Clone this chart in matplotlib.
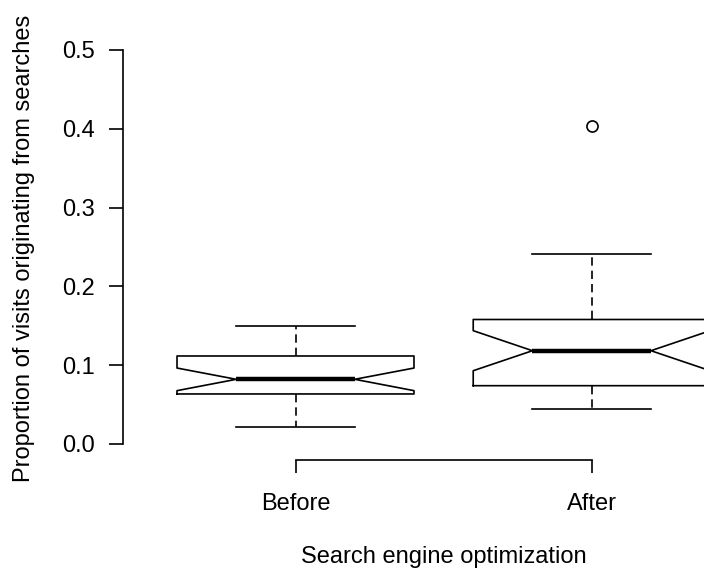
import matplotlib
matplotlib.use("Agg")
import matplotlib.pyplot as plt

plt.rcParams['font.family'] = ['Liberation Sans', 'DejaVu Sans']

categories = ["Before", "After"]
q1 = [0.0635, 0.074]
med = [0.0821, 0.1184]
q3 = [0.1117, 0.158]
whislo = [0.0216, 0.044]
whishi = [0.1497, 0.241]
cilo = [0.0677, 0.093]
cihi = [0.0964, 0.1438]
fliers = [[], [0.404]]
yticks = [0.0, 0.1, 0.2, 0.3, 0.4, 0.5]
ytick_labels = ["0.0", "0.1", "0.2", "0.3", "0.4", "0.5"]

W, H = 704, 574
fig = plt.figure(figsize=(W / 100, H / 100), dpi=100)

# plot region in pixels
left_px, right_px, top_px, bottom_px = 123, 704, 34, 460
ax = fig.add_axes([left_px / W, 1 - bottom_px / H, (right_px - left_px) / W, (bottom_px - top_px) / H])

stats = []
for i, c in enumerate(categories):
    stats.append(dict(label=c, med=med[i], q1=q1[i], q3=q3[i], whislo=whislo[i],
                      whishi=whishi[i], cilo=cilo[i], cihi=cihi[i], fliers=fliers[i]))

lw = 1.2
ax.bxp(stats, positions=[1, 2], widths=0.8, shownotches=True,
       boxprops=dict(color='black', linewidth=lw),
       whiskerprops=dict(color='black', linewidth=lw, linestyle=(0, (5, 3))),
       capprops=dict(color='black', linewidth=lw),
       medianprops=dict(color='black', linewidth=3.2, solid_capstyle='butt'),
       flierprops=dict(marker='o', markerfacecolor='none', markeredgecolor='black',
                       markersize=8, markeredgewidth=lw))

# data-to-pixel: x=1 at 295.5 px, x=2 at 591.7 px
ppu = 591.7 - 295.5
ax.set_xlim(1 - (295.5 - left_px) / ppu, 2 + (right_px - 591.7) / ppu)
ppy = 788.0
ax.set_ylim(-(bottom_px - 444) / ppy, (444 - top_px) / ppy)

for s in ['top', 'right']:
    ax.spines[s].set_visible(False)
ax.spines['left'].set_bounds(0, 0.5)
ax.spines['bottom'].set_bounds(1, 2)
ax.spines['left'].set_linewidth(lw)
ax.spines['bottom'].set_linewidth(lw)

ax.set_yticks(yticks)
ax.set_yticklabels(ytick_labels)
ax.set_xticks([1, 2])
ax.set_xticklabels(categories)
ax.tick_params(axis='y', length=10, width=lw, pad=10, labelsize=17)
ax.tick_params(axis='x', length=9, width=lw, pad=15, labelsize=17)

fig.text(444 / W, 1 - 557 / H, "Search engine optimization", ha='center', va='center', fontsize=17)
fig.text(24 / W, 1 - 248 / H, "Proportion of visits originating from searches", ha='center', va='center',
         rotation=90, fontsize=17)

fig.savefig("out.png", dpi=100)
